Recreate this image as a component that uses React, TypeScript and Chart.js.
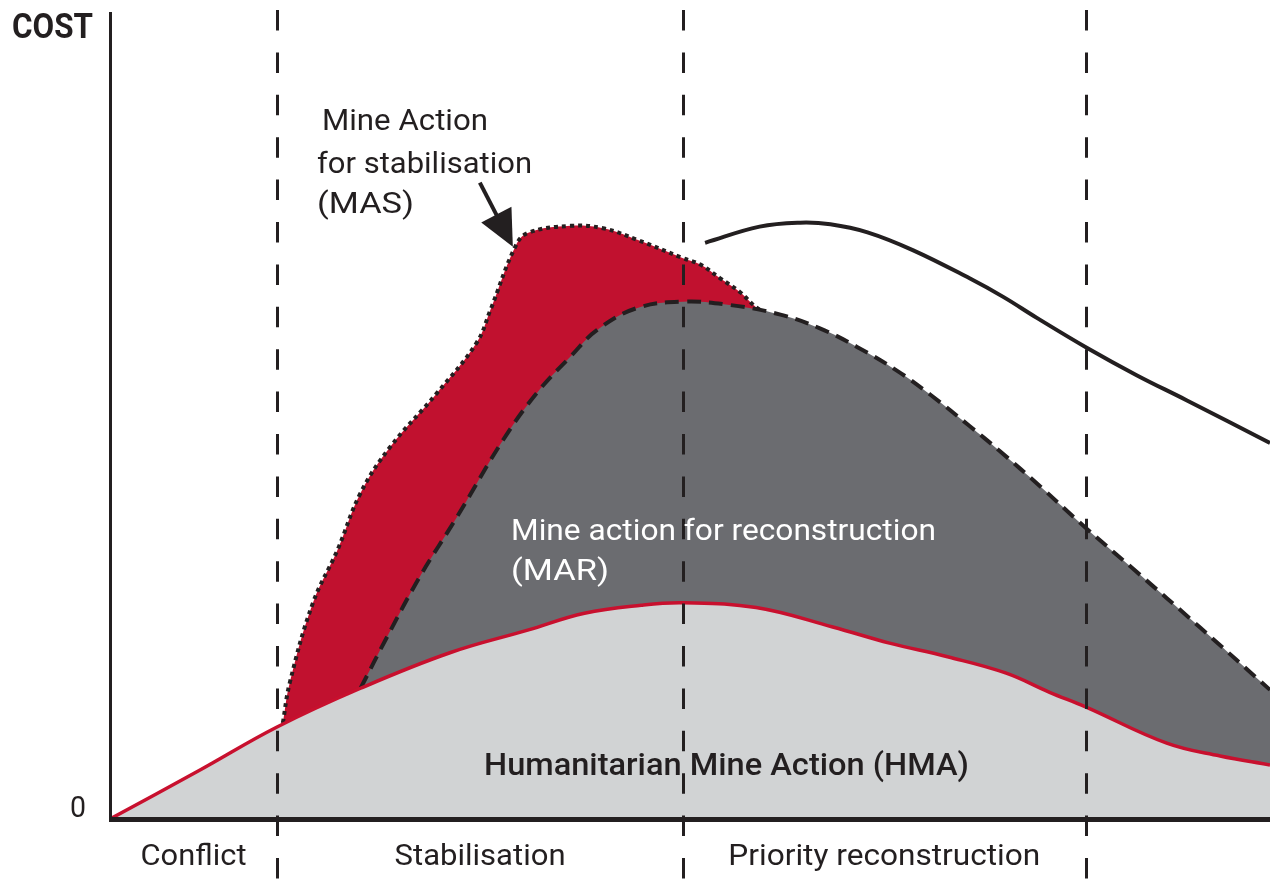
import React, { useEffect, useRef } from "react";
import { Chart, registerables } from "chart.js";

Chart.register(...registerables);

// ---- data (time 0..100 on x, cost 0..100 on y) ----
const hmaX = [0, 7.8, 14.4, 21.6, 29.3, 36, 40.9, 45.8, 49.4, 55.7, 62.3, 67.2, 72.2, 77.2, 81, 84.1, 91.1, 95.7, 100];
const hmaY = [0, 6.1, 11.4, 16.2, 20.6, 23.4, 25.5, 26.5, 26.8, 26.2, 23.8, 21.8, 20.1, 18.1, 15.7, 13.9, 9.4, 7.8, 6.7];

const marX = [21.6, 23.9, 26.7, 29.9, 33.9, 36.8, 39.7, 42, 45.4, 49.4, 53.4, 57.8, 61.2, 64.4, 67.8, 70.7, 74.1, 76.7, 80.2, 84.1, 88.2, 94, 100];
const marY = [16.2, 22.6, 30, 37.4, 47, 52.8, 57.3, 60.6, 63.3, 64.1, 63.7, 62.5, 60.8, 58.5, 55.6, 52.6, 48.7, 45.6, 41.2, 36.1, 31, 23.7, 16];

const masX = [14.9, 15.5, 17.5, 19.6, 21.6, 24.1, 28.2, 31.6, 32.8, 34.9, 36, 39.7, 42.5, 45.4, 49.4, 50.9, 52.6, 54.3, 55.8, 57.3];
const masY = [11.9, 16.9, 26.8, 33.3, 40.4, 46, 52.8, 59, 63.1, 70.8, 72.6, 73.5, 73.2, 71.8, 69.5, 68.7, 67, 65.3, 63.3, 62.1];

const totalX = [51.3, 56, 59.5, 62.1, 65.3, 69.2, 74.1, 77, 79.9, 84.2, 88.5, 92.8, 100];
const totalY = [71.4, 73.4, 73.9, 73.7, 72.7, 70.5, 67, 64.7, 62.1, 58.4, 55, 51.9, 46.6];

const phaseBounds = [14.4, 49.4, 84.1];
const phaseLabels = ["Conflict", "Stabilisation", "Priority reconstruction"];
const yAxisTitle = "COST";
const yZeroLabel = "0";
const masLabel = ["Mine Action", "for stabilisation", "(MAS)"];
const marLabel = ["Mine action for reconstruction", "(MAR)"];
const hmaLabel = "Humanitarian Mine Action (HMA)";
const masArrowIndex = 9;

// ---- styles ----
const INK = "#231f20";
const RED = "#c1112f";
const RED_LINE = "#c8102e";
const DARK = "#6b6c70";
const LIGHT = "#d1d3d4";
const FONT = "Roboto, 'Noto Sans', sans-serif";

const pts = (xs: number[], ys: number[]) => xs.map((x, i) => ({ x, y: ys[i] }));

function fitText(
  ctx: CanvasRenderingContext2D,
  text: string,
  x: number,
  y: number,
  w: number,
  font: string,
  color: string,
  align: "left" | "center" = "left"
) {
  ctx.save();
  ctx.font = font;
  ctx.fillStyle = color;
  ctx.textBaseline = "alphabetic";
  ctx.textAlign = "left";
  const m = ctx.measureText(text).width;
  const sx = w / m;
  const left = align === "center" ? x - w / 2 : x;
  ctx.translate(left, y);
  ctx.scale(sx, 1);
  ctx.fillText(text, 0, 0);
  ctx.restore();
}

const overlayPlugin = {
  id: "overlay",
  afterDatasetsDraw(chart: any) {
    const { ctx, chartArea, scales } = chart;
    const xs = scales.x;
    const ys = scales.y;
    const H = chart.height;

    // phase boundaries
    ctx.save();
    ctx.strokeStyle = INK;
    ctx.lineWidth = 3;
    ctx.setLineDash([20.5, 21.9]);
    phaseBounds.forEach((b) => {
      const px = Math.round(xs.getPixelForValue(b)) + 0.5;
      ctx.beginPath();
      ctx.moveTo(px, 10);
      ctx.lineTo(px, H);
      ctx.stroke();
    });
    ctx.restore();

    // axes
    ctx.save();
    ctx.strokeStyle = INK;
    ctx.lineWidth = 3;
    ctx.beginPath();
    ctx.moveTo(chartArea.left + 0.5, chartArea.top);
    ctx.lineTo(chartArea.left + 0.5, chartArea.bottom + 2);
    ctx.stroke();
    ctx.lineWidth = 5;
    ctx.beginPath();
    ctx.moveTo(chartArea.left - 1, chartArea.bottom + 0.5);
    ctx.lineTo(chartArea.right, chartArea.bottom + 0.5);
    ctx.stroke();
    ctx.restore();

    // axis texts
    fitText(ctx, yAxisTitle, 12, 38, 81, `bold 35px ${FONT}`, INK);
    fitText(ctx, yZeroLabel, 70, 817, 16, `30px ${FONT}`, INK);

    // phase labels
    const bounds = [xs.min, ...phaseBounds];
    const widths = [106, 171, 312];
    phaseLabels.forEach((lab, i) => {
      const c = xs.getPixelForValue((bounds[i] + bounds[i + 1]) / 2);
      fitText(ctx, lab, c, 865, widths[i], `30px ${FONT}`, INK, "center");
    });

    // MAS label
    fitText(ctx, masLabel[0], 322, 130, 166, `30px ${FONT}`, INK);
    fitText(ctx, masLabel[1], 317, 173, 215, `30px ${FONT}`, INK);
    fitText(ctx, masLabel[2], 317, 213, 97, `30px ${FONT}`, INK);

    // MAR label
    fitText(ctx, marLabel[0], 511, 540, 425, `30px ${FONT}`, "#ffffff");
    fitText(ctx, marLabel[1], 511, 580, 98, `30px ${FONT}`, "#ffffff");

    // HMA label
    fitText(ctx, hmaLabel, 484, 775, 485, `500 31px ${FONT}`, INK);

    // arrow to MAS
    const tipX = xs.getPixelForValue(masX[masArrowIndex]) - 2;
    const tipY = ys.getPixelForValue(masY[masArrowIndex]) - 1;
    const dx = 33, dy = 64;
    const len = Math.hypot(dx, dy);
    const ux = dx / len, uy = dy / len;
    const nx = -uy, ny = ux;
    const headLen = 36, headHalf = 17;
    const bx = tipX - ux * headLen, by = tipY - uy * headLen;
    ctx.save();
    ctx.strokeStyle = INK;
    ctx.fillStyle = INK;
    ctx.lineWidth = 4;
    ctx.beginPath();
    ctx.moveTo(tipX - ux * len, tipY - uy * len);
    ctx.lineTo(bx + ux * 2, by + uy * 2);
    ctx.stroke();
    ctx.beginPath();
    ctx.moveTo(tipX, tipY);
    ctx.lineTo(bx + nx * headHalf, by + ny * headHalf);
    ctx.lineTo(bx - nx * headHalf, by - ny * headHalf);
    ctx.closePath();
    ctx.fill();
    ctx.restore();
  },
};

export default function App() {
  const ref = useRef<HTMLCanvasElement | null>(null);

  useEffect(() => {
    if (!ref.current) return;
    const chart = new Chart(ref.current, {
      type: "line",
      data: {
        datasets: [
          {
            label: "HMA",
            data: pts(hmaX, hmaY),
            borderColor: RED_LINE,
            borderWidth: 3.5,
            backgroundColor: LIGHT,
            fill: "origin",
            pointRadius: 0,
            tension: 0.4,
          },
          {
            label: "MAR",
            data: pts(marX, marY),
            borderColor: INK,
            borderWidth: 4,
            borderDash: [14, 8],
            backgroundColor: DARK,
            fill: "origin",
            pointRadius: 0,
            tension: 0.4,
          },
          {
            label: "MAS",
            data: pts(masX, masY),
            borderColor: INK,
            borderWidth: 4,
            borderDash: [4, 4],
            backgroundColor: RED,
            fill: "origin",
            pointRadius: 0,
            tension: 0.4,
          },
          {
            label: "Total",
            data: pts(totalX, totalY),
            borderColor: INK,
            borderWidth: 4,
            fill: false,
            pointRadius: 0,
            tension: 0.4,
          },
        ],
      },
      options: {
        animation: false,
        responsive: false,
        events: [],
        layout: { padding: { left: 110, right: 0, top: 12, bottom: 62 } },
        plugins: {
          legend: { display: false },
          tooltip: { enabled: false },
        },
        scales: {
          x: { type: "linear", min: 0, max: 100, display: false },
          y: { type: "linear", min: 0, max: 100, display: false },
        },
      },
      plugins: [overlayPlugin],
    });
    return () => chart.destroy();
  }, []);

  return (
    <div style={{ position: "fixed", left: 0, top: 0, width: 1270, height: 881, background: "#fff" }}>
      <canvas ref={ref} width={1270} height={881} style={{ display: "block", width: 1270, height: 881 }} />
    </div>
  );
}
